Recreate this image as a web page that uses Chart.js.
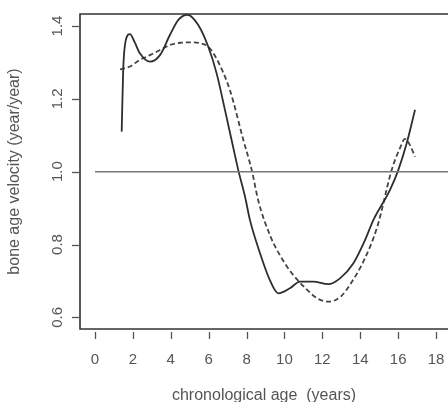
<!DOCTYPE html>
<html>
<head>
<meta charset="utf-8">
<script src="https://cdn.jsdelivr.net/npm/chart.js@4/dist/chart.umd.min.js"></script>
<style>
  html, body { margin: 0; padding: 0; background: #fff; }
  #wrap { width: 448px; height: 402px; }
</style>
</head>
<body>
<div id="wrap"><canvas id="grafico" width="448" height="402"></canvas></div>
<script>
// valores
var idadeSolida = [1.41, 1.49, 1.62, 1.85, 2.1, 2.37, 2.9, 3.43, 3.96, 4.4, 4.87, 5.45, 5.98, 6.42, 6.9, 7.21, 7.56, 7.92, 8.18, 8.71, 9.23, 9.67, 10.29, 10.82, 11.52, 12.31, 12.93, 13.63, 14.25, 14.69, 15.57, 16.01, 16.45, 16.89];
var velocSolida = [1.11, 1.28, 1.36, 1.378, 1.355, 1.325, 1.302, 1.32, 1.376, 1.417, 1.431, 1.403, 1.343, 1.27, 1.16, 1.087, 1.005, 0.931, 0.867, 0.776, 0.702, 0.666, 0.68, 0.698, 0.698, 0.691, 0.707, 0.748, 0.812, 0.867, 0.95, 1.005, 1.078, 1.17];

var idadeTracejada = [1.32, 1.85, 2.37, 2.9, 3.43, 3.96, 4.49, 5.01, 5.54, 5.98, 6.42, 7.12, 7.83, 8.27, 8.62, 9.27, 9.8, 10.33, 11.03, 11.73, 12.35, 12.97, 13.5, 14.2, 14.9, 15.66, 16.09, 16.36, 16.62, 16.89];
var velocTracejada = [1.281, 1.289, 1.307, 1.32, 1.334, 1.348, 1.354, 1.355, 1.353, 1.343, 1.31, 1.224, 1.087, 1.005, 0.92, 0.821, 0.767, 0.725, 0.684, 0.652, 0.643, 0.657, 0.693, 0.757, 0.849, 1.005, 1.064, 1.09, 1.073, 1.041];

var idadeReferencia = [0, 19];
var velocReferencia = [1, 1];

var ticksX = [0, 2, 4, 6, 8, 10, 12, 14, 16, 18];
var ticksY = [0.6, 0.8, 1.0, 1.2, 1.4];

function pares(xs, ys) {
    return xs.map(function (x, i) { return { x: x, y: ys[i] }; });
}

var corTexto = '#555';
var fonte = 'Liberation Sans, Arial, sans-serif';

// moldura e marcas no estilo do R
var molduraR = {
    id: 'molduraR',
    afterDraw: function (chart) {
        var ctx = chart.ctx;
        var area = chart.chartArea;
        var sx = chart.scales.x, sy = chart.scales.y;
        ctx.save();
        ctx.strokeStyle = '#333';
        ctx.lineWidth = 1.6;
        ctx.beginPath();
        ctx.moveTo(chart.width, area.top);
        ctx.lineTo(area.left, area.top);
        ctx.lineTo(area.left, area.bottom);
        ctx.lineTo(chart.width, area.bottom);
        ctx.stroke();

        ctx.strokeStyle = '#555';
        ctx.lineWidth = 1.3;
        ticksX.forEach(function (v) {
            var px = Math.round(sx.getPixelForValue(v)) + 0.5;
            ctx.beginPath();
            ctx.moveTo(px, area.bottom + 3);
            ctx.lineTo(px, area.bottom + 10);
            ctx.stroke();
        });
        ticksY.forEach(function (v) {
            var py = Math.round(sy.getPixelForValue(v)) + 0.5;
            ctx.beginPath();
            ctx.moveTo(area.left - 8, py);
            ctx.lineTo(area.left, py);
            ctx.stroke();
        });

        ctx.fillStyle = corTexto;
        ctx.font = '15px ' + fonte;
        ctx.textAlign = 'center';
        ctx.textBaseline = 'middle';
        ticksY.forEach(function (v) {
            var py = sy.getPixelForValue(v);
            ctx.save();
            ctx.translate(58, py);
            ctx.rotate(-Math.PI / 2);
            ctx.fillText(v.toFixed(1), 0, 0);
            ctx.restore();
        });
        ctx.restore();
    }
};

new Chart(document.getElementById('grafico').getContext('2d'), {
    type: 'line',
    data: {
        datasets: [{
            data: pares(idadeReferencia, velocReferencia),
            borderColor: '#777',
            borderWidth: 1.5,
            pointRadius: 0
        }, {
            data: pares(idadeSolida, velocSolida),
            borderColor: '#2e2e2e',
            borderWidth: 1.8,
            pointRadius: 0,
            cubicInterpolationMode: 'monotone'
        }, {
            data: pares(idadeTracejada, velocTracejada),
            borderColor: '#444',
            borderWidth: 1.8,
            borderDash: [5, 3],
            pointRadius: 0,
            cubicInterpolationMode: 'monotone'
        }]
    },
    options: {
        responsive: false,
        animation: false,
        layout: { padding: { top: 14, right: 0, bottom: 0, left: 0 } },
        plugins: { legend: { display: false }, tooltip: { enabled: false } },
        scales: {
            x: {
                type: 'linear',
                min: -0.79,
                max: 18.63,
                afterBuildTicks: function (scale) {
                    scale.ticks = ticksX.map(function (v) { return { value: v }; });
                },
                afterFit: function (scale) {
                    scale.height = 73;
                    scale.paddingLeft = 0;
                    scale.paddingRight = 0;
                },
                grid: { display: false },
                border: { display: false },
                ticks: {
                    color: corTexto,
                    font: { family: fonte, size: 15 },
                    padding: 14,
                    maxRotation: 0
                },
                title: {
                    display: true,
                    text: 'chronological age  (years)',
                    color: corTexto,
                    font: { family: fonte, size: 16, lineHeight: 0.85 },
                    padding: { top: 0, bottom: 0 }
                }
            },
            y: {
                min: 0.568,
                max: 1.433,
                afterBuildTicks: function (scale) {
                    scale.ticks = ticksY.map(function (v) { return { value: v }; });
                },
                afterFit: function (scale) { scale.width = 80; },
                grid: { display: false },
                border: { display: false },
                ticks: { display: false },
                title: {
                    display: true,
                    text: 'bone age velocity (year/year)',
                    color: corTexto,
                    font: { family: fonte, size: 16, lineHeight: 1 },
                    padding: { top: 7, bottom: 0 }
                }
            }
        }
    },
    plugins: [molduraR]
});
</script>
</body>
</html>
